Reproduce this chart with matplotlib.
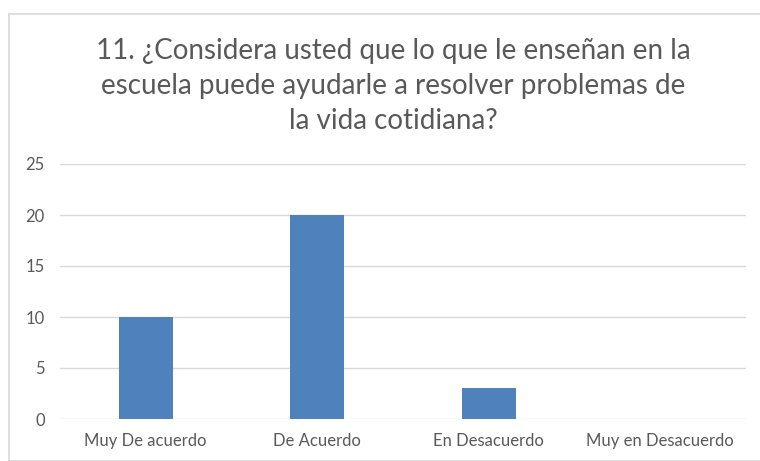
import matplotlib.pyplot as plt
from matplotlib.patches import Rectangle

categorias = ["Muy De acuerdo", "De Acuerdo", "En Desacuerdo", "Muy en Desacuerdo"]
valores = [10, 20, 3, 0]
ticks_y = [0, 5, 10, 15, 20, 25]
titulo = ("11. ¿Considera usted que lo que le enseñan en la\n"
          "escuela puede ayudarle a resolver problemas de\n"
          "la vida cotidiana?")

plt.rcParams['font.family'] = ['Lato', 'DejaVu Sans']
gris_texto = '#595959'

fig = plt.figure(figsize=(7.6, 4.61), dpi=100)
# borde del área del gráfico
fig.patches.append(Rectangle((9 / 760, 0), 1.0, 1 - 14 / 461, transform=fig.transFigure,
                             fill=False, edgecolor='#D9D9D9', lw=1.2))

ax = fig.add_axes([60 / 760, 1 - 419 / 461, (746 - 60) / 760, (419 - 164) / 461])
x = range(len(categorias))
ax.bar(x, valores, width=0.315, color='#4F81BD', zorder=3)
ax.set_xlim(-0.5, len(categorias) - 0.5)
ax.set_ylim(0, 25)
ax.set_yticks(ticks_y)
ax.set_xticks(list(x))
ax.set_xticklabels(categorias)
ax.grid(axis='y', color='#D9D9D9', lw=1)
for s in ax.spines.values():
    s.set_visible(False)
ax.tick_params(length=0, labelsize=12, colors=gris_texto)
ax.tick_params(axis='x', pad=10)
ax.tick_params(axis='y', pad=11)

fig.text(393 / 760, 1 - 86 / 461, titulo, ha='center', va='center', fontsize=20,
         color=gris_texto, linespacing=1.42)

fig.savefig('out.png', dpi=100)
